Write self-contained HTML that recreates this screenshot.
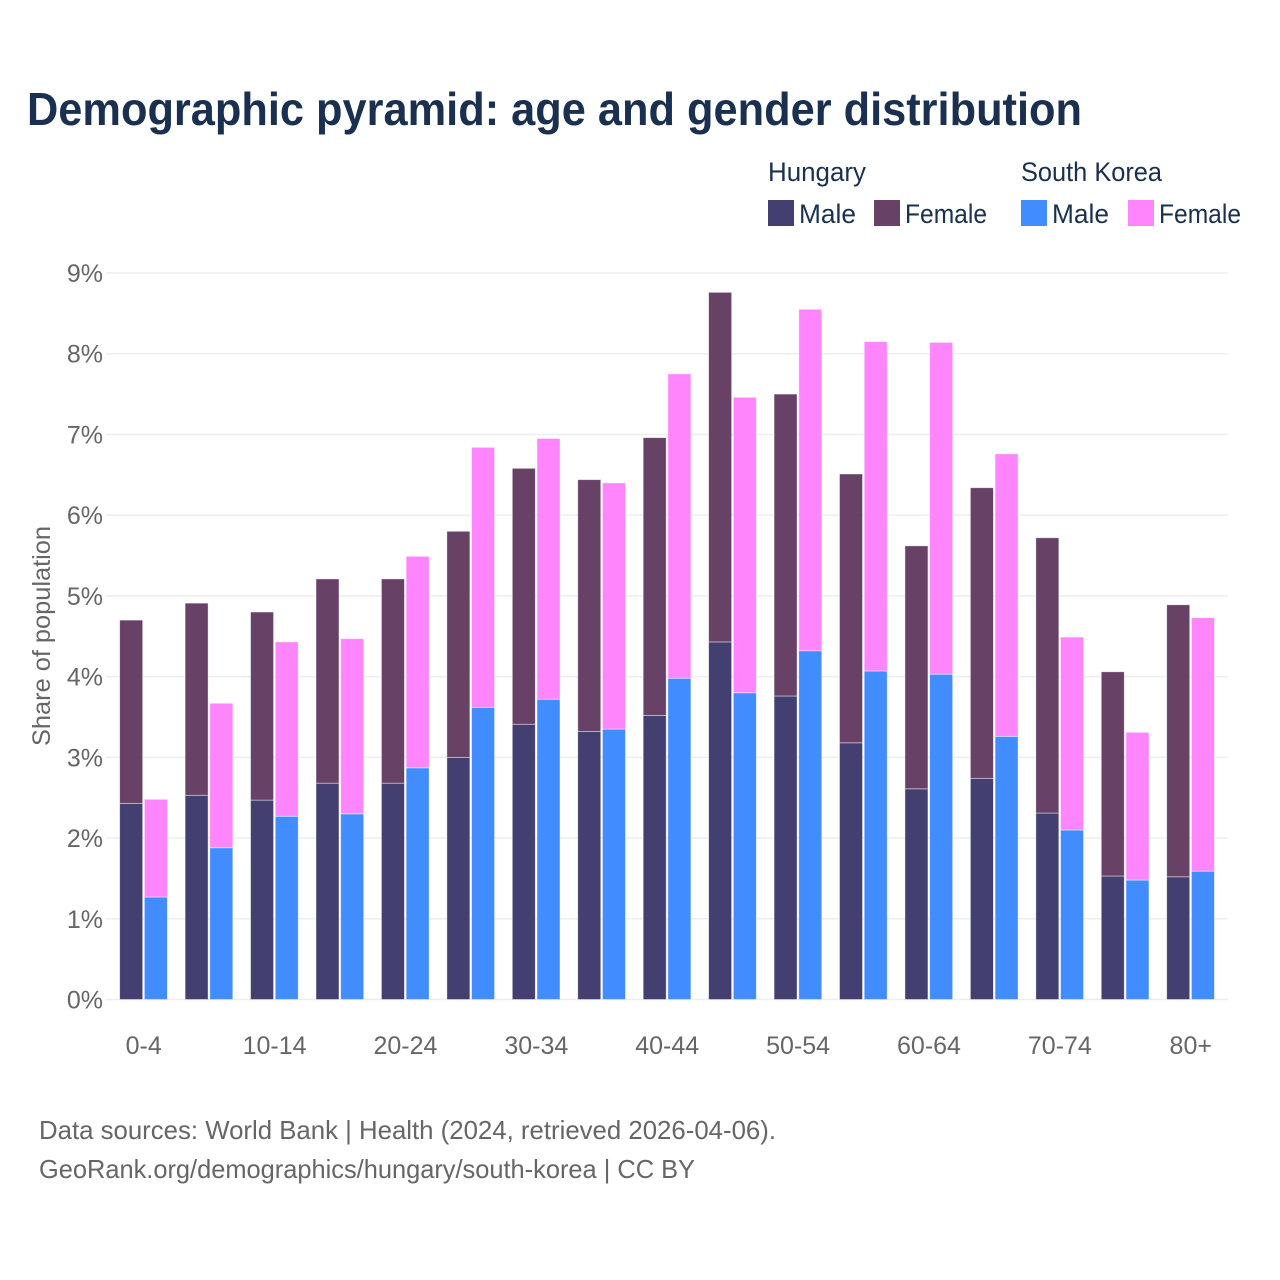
<!DOCTYPE html>
<html lang="en">
<head>
<meta charset="utf-8">
<title>Demographic pyramid: age and gender distribution</title>
<style>
html,body{margin:0;padding:0;background:#fff;}
#chart{display:block;width:1280px;height:1280px;font-family:"Liberation Sans",sans-serif;}
</style>
</head>
<body>
<svg id="chart" xmlns="http://www.w3.org/2000/svg" width="1280" height="1280" viewBox="0 0 1280 1280">
  <rect x="0" y="0" width="1280" height="1280" fill="#ffffff"/>
  <text x="27" y="125" font-size="46" font-weight="700" fill="#1a3050" textLength="1055" lengthAdjust="spacingAndGlyphs">Demographic pyramid: age and gender distribution</text>

  <g font-size="27" fill="#1a3050">
    <text x="768" y="181" textLength="98" lengthAdjust="spacingAndGlyphs">Hungary</text>
    <text x="1021" y="181" textLength="141" lengthAdjust="spacingAndGlyphs">South Korea</text>
    <rect x="768" y="200" width="26" height="26" fill="#433f70"/>
    <text x="799" y="223" textLength="57" lengthAdjust="spacingAndGlyphs">Male</text>
    <rect x="874" y="200" width="26" height="26" fill="#684166"/>
    <text x="905" y="223" textLength="82" lengthAdjust="spacingAndGlyphs">Female</text>
    <rect x="1021" y="200" width="26" height="26" fill="#418cff"/>
    <text x="1052" y="223" textLength="57" lengthAdjust="spacingAndGlyphs">Male</text>
    <rect x="1128" y="200" width="26" height="26" fill="#ff85fc"/>
    <text x="1159" y="223" textLength="82" lengthAdjust="spacingAndGlyphs">Female</text>
  </g>

  <g id="grid"></g>
  <g id="bars"></g>
  <g id="yticks"></g>
  <g id="xticks"></g>

  <text transform="translate(50,636) rotate(-90)" text-anchor="middle" font-size="25" fill="#666666" textLength="220" lengthAdjust="spacingAndGlyphs">Share of population</text>

  <text x="39" y="1139" font-size="26" fill="#666666" textLength="737" lengthAdjust="spacingAndGlyphs">Data sources: World Bank | Health (2024, retrieved 2026-04-06).</text>
  <text x="39" y="1178" font-size="26" fill="#666666" textLength="656" lengthAdjust="spacingAndGlyphs">GeoRank.org/demographics/hungary/south-korea | CC BY</text>
</svg>
<script>
const categories = ['0-4','5-9','10-14','15-19','20-24','25-29','30-34','35-39','40-44','45-49','50-54','55-59','60-64','65-69','70-74','75-79','80+'];
const hungaryMale = [2.43,2.53,2.47,2.68,2.68,3.00,3.41,3.32,3.52,4.43,3.76,3.18,2.61,2.74,2.31,1.53,1.52];
const hungaryFemale = [2.27,2.38,2.33,2.53,2.53,2.80,3.17,3.12,3.44,4.33,3.74,3.33,3.01,3.60,3.41,2.53,3.37];
const koreaMale = [1.27,1.88,2.27,2.30,2.87,3.62,3.72,3.35,3.98,3.80,4.32,4.07,4.03,3.26,2.10,1.48,1.59];
const koreaFemale = [1.21,1.79,2.16,2.17,2.62,3.22,3.23,3.05,3.77,3.66,4.23,4.08,4.11,3.50,2.39,1.83,3.14];
const yTicks = [0,1,2,3,4,5,6,7,8,9];
const xTickLabels = ['0-4','10-14','20-24','30-34','40-44','50-54','60-64','70-74','80+'];

const NS = 'http://www.w3.org/2000/svg';
const plot = {left: 106, right: 1228, y0: 999.5, y9: 273, maxValue: 9, bandStart: 111, bandStep: 65.44, barWidth: 23, barGap: 1.7};

function yScale(v) {
  return plot.y0 - (v / plot.maxValue) * (plot.y0 - plot.y9);
}
function bandCenter(i) {
  return plot.bandStart + plot.bandStep * (i + 0.5);
}

const gridGroup = document.getElementById('grid');
const tickGroup = document.getElementById('yticks');
yTicks.forEach(function (t) {
  const line = document.createElementNS(NS, 'line');
  
  
  line.setAttribute('x1', plot.left);
  line.setAttribute('x2', plot.right);
  line.setAttribute('y1', yScale(t));
  line.setAttribute('y2', yScale(t));
  line.setAttribute('stroke', '#eeeeee');
  line.setAttribute('stroke-width', '1.5');
  gridGroup.appendChild(line);

  const label = document.createElementNS(NS, 'text');
  
  
  label.setAttribute('x', 103);
  label.setAttribute('y', yScale(t) + 9);
  label.setAttribute('text-anchor', 'end');
  label.setAttribute('font-size', '25');
  label.setAttribute('fill', '#666666');
  label.textContent = t + '%';
  tickGroup.appendChild(label);
});

const xGroup = document.getElementById('xticks');
xTickLabels.forEach(function (name) {
  const label = document.createElementNS(NS, 'text');
  
  
  label.setAttribute('x', bandCenter(categories.indexOf(name)));
  label.setAttribute('y', 1054);
  label.setAttribute('text-anchor', 'middle');
  label.setAttribute('font-size', '25');
  label.setAttribute('fill', '#666666');
  label.textContent = name;
  xGroup.appendChild(label);
});

const barGroup = document.getElementById('bars');
function drawSegment(x, bottom, value, fill, name) {
  const top = yScale(bottom + value);
  const rect = document.createElementNS(NS, 'rect');
  
  
  rect.setAttribute('x', x);
  rect.setAttribute('y', top);
  rect.setAttribute('width', plot.barWidth);
  rect.setAttribute('height', yScale(bottom) - top);
  rect.setAttribute('fill', fill);
  rect.setAttribute('stroke', '#ffffff');
  rect.setAttribute('stroke-opacity', '0.55');
  rect.setAttribute('stroke-width', '0.8');
  barGroup.appendChild(rect);
}
categories.forEach(function (cat, i) {
  const c = bandCenter(i);
  const x1 = c - plot.barWidth - plot.barGap / 2 - 0.2;
  const x2 = c + plot.barGap / 2 - 0.2;
  drawSegment(x1, 0, hungaryMale[i], '#433f70', 'bar-hungary-male-' + cat);
  drawSegment(x1, hungaryMale[i], hungaryFemale[i], '#684166', 'bar-hungary-female-' + cat);
  drawSegment(x2, 0, koreaMale[i], '#418cff', 'bar-south-korea-male-' + cat);
  drawSegment(x2, koreaMale[i], koreaFemale[i], '#ff85fc', 'bar-south-korea-female-' + cat);
});
</script>
</body>
</html>
